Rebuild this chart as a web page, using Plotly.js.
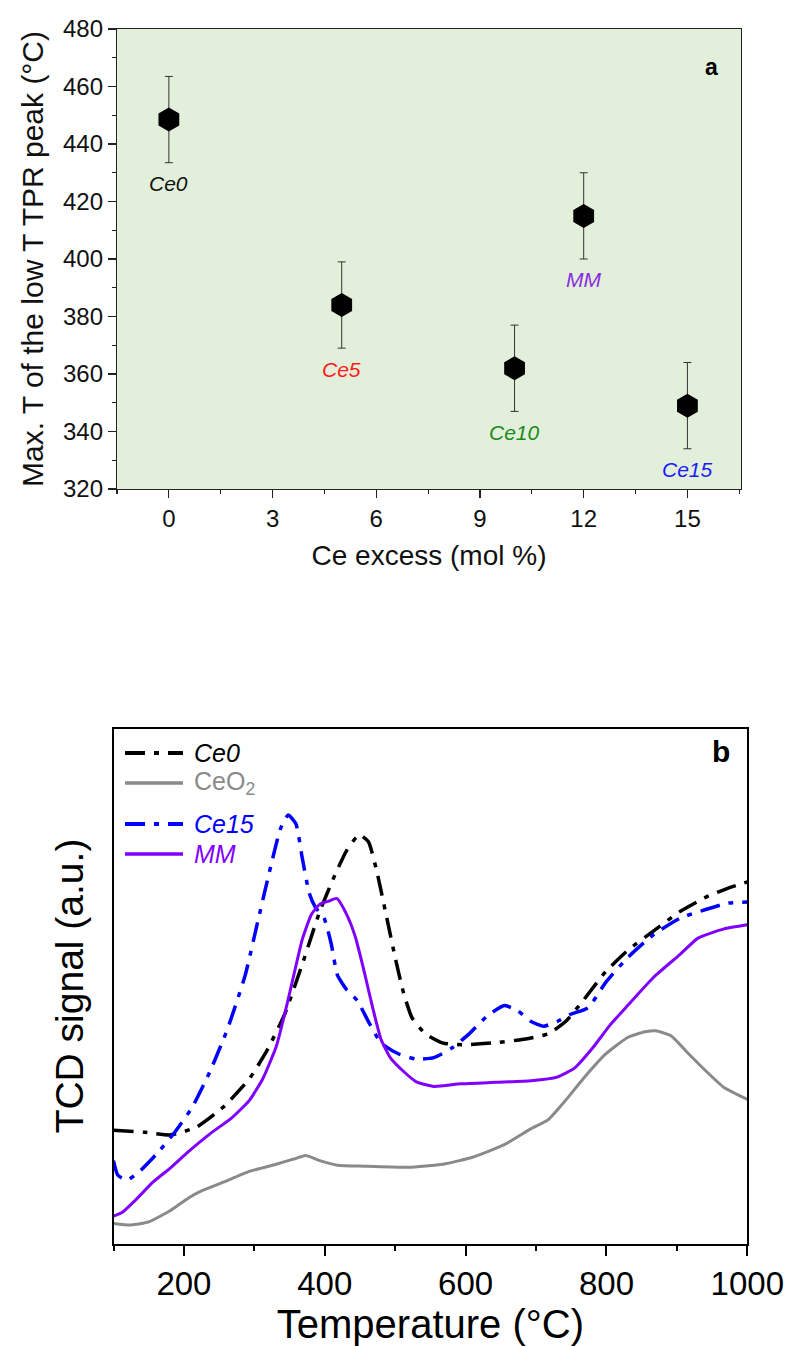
<!DOCTYPE html>
<html>
<head>
<meta charset="utf-8">
<script src="https://cdn.plot.ly/plotly-3.0.1.min.js"></script>
<style>html,body{margin:0;padding:0;background:#fff;}#chart{width:789px;height:1346px;}</style>
</head>
<body>
<div id="chart"></div>
<script>
// ---------- Panel a data ----------
const sampleLabels = ['Ce0', 'Ce5', 'Ce10', 'MM', 'Ce15'];
const ceExcess = [0, 5, 10, 12, 15];
const maxT = [448.5, 384, 362, 415, 349];
const maxTErr = [15, 15, 15, 15, 15];
const labelColors = ['#111111', '#ff1a1a', '#1a8a1a', '#8a2be2', '#1a1aff'];
const xTicksA = [0, 3, 6, 9, 12, 15];
const yTicksA = [320, 340, 360, 380, 400, 420, 440, 460, 480];

// ---------- Panel b data (TCD signal, arbitrary units 0-100) ----------
const seriesNames = ['Ce0', 'CeO2', 'Ce15', 'MM'];
const ce0T = [100,144,181,218,256,293,318,343,368,393,412,431,449,462,474,487,500,512,524,543,568,599,643,680,717,742,767,799,830,867,905,942,973,1000];
const ce0S = [22.0,21.6,21.1,22.6,26.5,32.0,37.5,44.5,54.2,64.5,70.8,76.3,79.4,78.0,72.2,63.9,55.5,48.6,43.8,40.7,38.9,38.6,39.0,39.6,40.7,43.1,47.2,52.8,56.9,60.7,64.5,67.3,69.0,70.2];
const ceo2T = [100,125,150,181,206,225,256,293,331,356,373,393,418,456,518,568,611,655,693,717,742,767,799,830,855,870,892,917,942,967,1000];
const ceo2S = [3.9,3.6,4.2,6.4,8.8,10.2,11.9,14.0,15.4,16.4,17.1,16.1,15.2,15.0,14.8,15.4,16.8,19.2,22.3,24.0,27.8,32.0,36.8,40.0,41.1,41.3,40.3,36.8,33.4,30.3,28.0];
const ce15T = [100,106,119,137,162,187,212,237,262,287,306,325,337,348,359,368,378,387,399,409,418,431,446,462,480,505,530,555,580,605,630,655,674,693,711,730,749,774,799,830,867,905,942,973,1000];
const ce15S = [16.1,13.3,12.3,14.0,17.5,21.6,26.5,33.4,41.7,52.1,63.2,74.2,80.5,83.2,81.5,74.9,68.0,65.2,63.2,58.3,52.1,49.3,47.2,43.1,38.9,36.8,35.8,36.1,37.9,40.7,44.1,46.2,45.2,43.1,42.2,43.1,44.5,45.8,50.7,55.5,60.0,63.2,64.9,66.1,66.3];
const mmT = [100,112,131,156,181,206,237,268,293,312,331,343,356,368,381,393,406,417,431,443,456,468,480,493,512,530,555,593,643,693,730,755,780,805,830,867,905,930,967,1000];
const mmS = [5.3,6.0,8.4,11.9,14.7,17.8,21.3,24.4,27.8,32.0,38.2,44.5,52.1,59.0,63.9,65.9,66.5,67.0,63.9,59.7,52.8,45.8,39.6,36.1,33.4,31.4,30.5,31.0,31.3,31.6,32.3,34.1,37.9,42.4,46.2,51.7,56.2,59.3,61.1,61.9];

// ---------- styling ----------
const W = 789, H = 1346;
const px = p => p / W;
const py = p => 1 - p / H;
const SANS = 'Liberation Sans, Arial, sans-serif';
const seriesColors = ['#000000', '#8a8a8a', '#0000ff', '#8000ff'];
const seriesDash = ['20px,9px,5px,9px', 'solid', '20px,9px,5px,9px', 'solid'];
const seriesWidth = [3.5, 3, 3.5, 3];
const seriesX = [ce0T, ceo2T, ce15T, mmT];
const seriesY = [ce0S, ceo2S, ce15S, mmS];
const legendNames = ['<i>Ce0</i>', 'CeO<sub>2</sub>', '<i>Ce15</i>', '<i>MM</i>'];

const traces = [];
traces.push({
  type: 'scatter', mode: 'markers', x: ceExcess, y: maxT, xaxis: 'x', yaxis: 'y',
  marker: {symbol: 'hexagon', size: 24, color: '#000000'},
  error_y: {type: 'data', array: maxTErr, visible: true, color: '#333333', thickness: 1, width: 4},
  showlegend: false, hoverinfo: 'x+y'
});
for (let i = 0; i < seriesNames.length; i++) {
  traces.push({
    type: 'scatter', mode: 'lines', name: seriesNames[i], x: seriesX[i], y: seriesY[i],
    xaxis: 'x2', yaxis: 'y2',
    line: {color: seriesColors[i], width: seriesWidth[i], dash: seriesDash[i], shape: 'spline', smoothing: 0.5},
    showlegend: false
  });
}

const annotations = [];
for (let i = 0; i < sampleLabels.length; i++) {
  annotations.push({
    xref: 'x', yref: 'y', x: ceExcess[i], y: maxT[i], yshift: -64, showarrow: false,
    text: '<i>' + sampleLabels[i] + '</i>', font: {family: SANS, size: 21, color: labelColors[i]}
  });
}
annotations.push({xref: 'paper', yref: 'paper', x: px(720), y: py(52), showarrow: false,
  text: '<b>a</b>', font: {family: SANS, size: 23, color: '#000'}});
annotations.push({xref: 'paper', yref: 'paper', x: px(732), y: py(751), showarrow: false,
  text: '<b>b</b>', font: {family: SANS, size: 30, color: '#000'}});

// manual legend for panel b
const legendRowsY = [753, 783, 824, 854];
const shapes = [{
  type: 'rect', xref: 'x domain', yref: 'y domain', x0: 0, x1: 1, y0: 0, y1: 1,
  fillcolor: '#e2efda', line: {width: 0}, layer: 'below'
}];
for (let i = 0; i < seriesNames.length; i++) {
  shapes.push({type: 'line', xref: 'paper', yref: 'paper', x0: px(125), x1: px(183),
    y0: py(legendRowsY[i]), y1: py(legendRowsY[i]),
    line: {color: seriesColors[i], width: seriesWidth[i] + 0.5, dash: seriesDash[i]}});
  annotations.push({xref: 'paper', yref: 'paper', x: px(192), y: py(legendRowsY[i]),
    xanchor: 'left', yanchor: 'middle', showarrow: false, text: legendNames[i],
    font: {family: SANS, size: 25, color: seriesColors[i]}});
}

const layout = {
  width: W, height: H,
  margin: {l: 0, r: 0, t: 0, b: 0},
  paper_bgcolor: '#ffffff', plot_bgcolor: 'rgba(0,0,0,0)',
  font: {family: SANS, color: '#000'},
  showlegend: false,
  xaxis: {
    domain: [px(117), px(741)], anchor: 'y', range: [-1.5, 16.55],
    tickvals: xTicksA, ticks: 'outside', ticklen: 8, tickwidth: 1.2, tickcolor: '#222',
    minor: {dtick: 1.5, tick0: 0, ticks: 'outside', ticklen: 4, tickwidth: 1.2, tickcolor: '#222'},
    showline: true, mirror: true, linecolor: '#222', linewidth: 1.2,
    showgrid: false, zeroline: false,
    tickfont: {family: SANS, size: 24, color: '#111'},
    title: {text: 'Ce excess (mol %)', font: {family: SANS, size: 28, color: '#111'}, standoff: 14}
  },
  yaxis: {
    domain: [py(489), py(29)], anchor: 'x', range: [320, 480],
    tickvals: yTicksA, ticks: 'outside', ticklen: 8, tickwidth: 1.2, tickcolor: '#222',
    minor: {dtick: 10, tick0: 320, ticks: 'outside', ticklen: 4, tickwidth: 1.2, tickcolor: '#222'},
    showline: true, mirror: true, linecolor: '#222', linewidth: 1.2,
    showgrid: false, zeroline: false,
    tickfont: {family: SANS, size: 24, color: '#111'},
    title: {text: 'Max. T of the low T TPR peak (°C)', font: {family: SANS, size: 30, color: '#111'}, standoff: 10}
  },
  xaxis2: {
    domain: [px(113.5), px(747.3)], anchor: 'y2', range: [100, 1000],
    dtick: 200, tick0: 0, ticks: 'outside', ticklen: 10, tickwidth: 2, tickcolor: '#000',
    minor: {dtick: 100, tick0: 100, ticks: 'outside', ticklen: 5, tickwidth: 2, tickcolor: '#000'},
    showline: true, mirror: true, linecolor: '#000', linewidth: 2,
    showgrid: false, zeroline: false,
    tickfont: {family: SANS, size: 33, color: '#000'},
    title: {text: 'Temperature (°C)', font: {family: SANS, size: 40, color: '#000'}, standoff: 8}
  },
  yaxis2: {
    domain: [py(1243.5), py(728.5)], anchor: 'x2', range: [0, 100],
    showticklabels: false, ticks: '',
    showline: true, mirror: true, linecolor: '#000', linewidth: 2,
    showgrid: false, zeroline: false,
    title: {text: 'TCD signal (a.u.)', font: {family: SANS, size: 39, color: '#000'}, standoff: 16}
  },
  shapes: shapes,
  annotations: annotations
};

Plotly.newPlot('chart', traces, layout, {displayModeBar: false, staticPlot: true});
</script>
</body>
</html>
